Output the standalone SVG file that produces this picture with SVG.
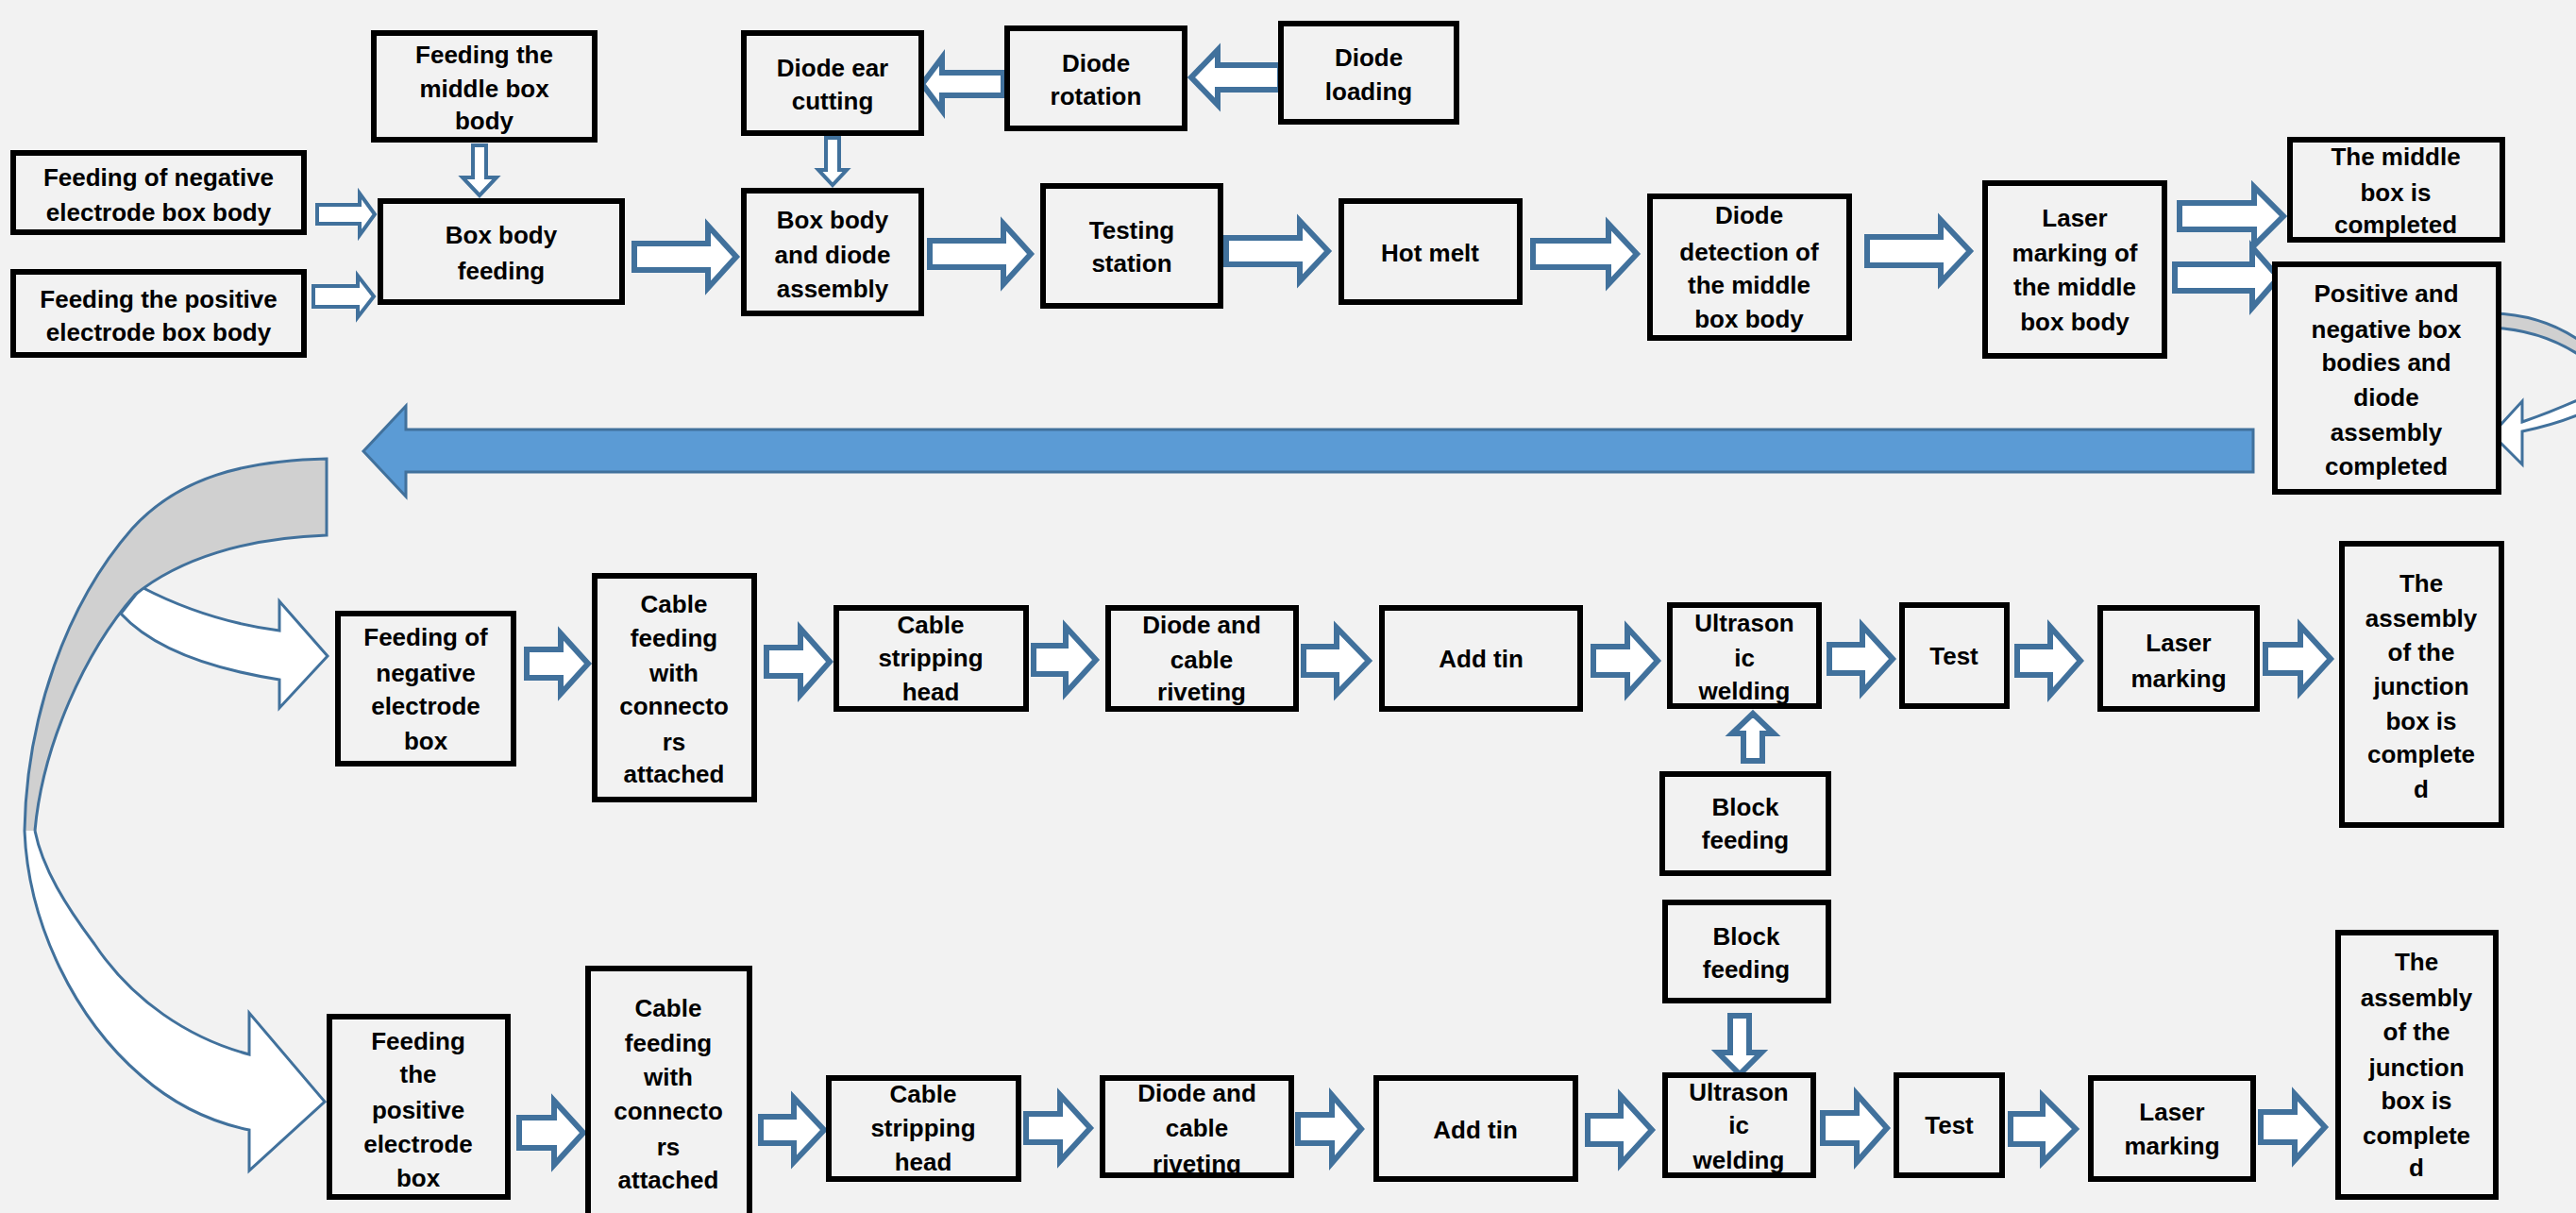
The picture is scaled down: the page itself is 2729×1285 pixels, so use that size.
<svg xmlns="http://www.w3.org/2000/svg" width="2729" height="1285" viewBox="0 0 2729 1285">
<style>
.b{fill:#F2F2F2;stroke:#000;stroke-width:6}
.bo{fill:none;stroke:#000;stroke-width:6}
.t{font-family:"Liberation Sans",Arial,sans-serif;font-weight:bold;font-size:26px;fill:#000;text-anchor:middle}
.a{fill:#fff;stroke:#41719C;stroke-width:6;stroke-linejoin:miter}
.thin{stroke-width:4}
.big{fill:#5B9BD5;stroke:#41719C;stroke-width:3}
.cv{fill:#fff;stroke:#41719C;stroke-width:3}
.cg{fill:#D0D0D0;stroke:#41719C;stroke-width:3}
</style>
<rect x="0" y="0" width="2729" height="1285" fill="#F2F2F2"/>
<g id="connectors">
<path class="a thin" d="M336 217 H381 V205 L397 227 L381 249 V237 H336 Z"/>
<path class="a thin" d="M332 303 H379 V292 L396 314 L379 336 V325 H332 Z"/>
<path class="a thin" d="M501 154 V188 H490 L508 207 L526 188 H515 V154 Z"/>
<path class="a thin" d="M875 146 V180 H867 L882 196 L897 180 H889 V146 Z"/>
<path class="a" d="M672 258 H750 V239 L780 272 L750 305 V286 H672 Z"/>
<path class="a" d="M985 255 H1063 V237 L1092 269 L1063 301 V283 H985 Z"/>
<path class="a" d="M1299 252 H1377 V234 L1407 266 L1377 298 V280 H1299 Z"/>
<path class="a" d="M1624 255 H1704 V237 L1734 269 L1704 301 V283 H1624 Z"/>
<path class="a" d="M1978 251 H2056 V233 L2087 266 L2056 299 V281 H1978 Z"/>
<path class="a" d="M2309 215 H2388 V198 L2419 229 L2388 260 V243 H2309 Z"/>
<path class="a" d="M2304 280 H2386 V262 L2414 294 L2386 326 V308 H2304 Z"/>
<path class="a" d="M1356 69 H1290 V53 L1262 82 L1290 111 V95 H1356 Z"/>
<path class="a" d="M1063 77 H998 V61 L977 89 L998 117 V101 H1063 Z"/>
<path class="cg" d="M2640 332 Q2700 333 2745 370 L2745 385 Q2700 350 2640 347 Z"/>
<path class="cv" d="M2760 410 Q2720 430 2672 447 L2672 425 L2640 460 L2672 492 L2672 457 Q2730 445 2770 420 Z"/>
<path class="big" d="M2387 455 V500 H430 V526 L385 478 L430 430 V455 Z"/>
<path class="cv" d="M150 622 C200 648 250 662 296 668 L296 637 L347 695 L296 750 L296 720 C220 708 160 685 128 650 Z"/>
<path class="cg" d="M26 880 C28 760 70 640 140 560 C190 505 260 488 346 486 L346 567 C260 570 190 592 143 630 C90 690 45 790 37 880"/>
<path class="cv" d="M26 880 C30 980 80 1080 150 1140 C190 1175 230 1190 264 1197 L264 1240 L344 1167 L264 1073 L264 1117 C200 1100 140 1060 100 1000 C70 960 45 920 37 880"/>
<path class="a" d="M558 688 H594 V671 L623 703 L594 735 V718 H558 Z"/>
<path class="a" d="M812 686 H848 V666 L879 701 L848 736 V716 H812 Z"/>
<path class="a" d="M1095 684 H1129 V664 L1161 699 L1129 734 V714 H1095 Z"/>
<path class="a" d="M1381 685 H1416 V665 L1450 700 L1416 735 V715 H1381 Z"/>
<path class="a" d="M1688 685 H1724 V665 L1756 700 L1724 735 V715 H1688 Z"/>
<path class="a" d="M1938 683 H1973 V663 L2005 698 L1973 733 V713 H1938 Z"/>
<path class="a" d="M2137 685 H2172 V664 L2204 700 L2172 736 V715 H2137 Z"/>
<path class="a" d="M2400 683 H2437 V663 L2469 698 L2437 733 V713 H2400 Z"/>
<path class="a" d="M1847 806 V777 H1835 L1857 756 L1879 777 H1867 V806 Z"/>
<path class="a" d="M550 1184 H587 V1166 L618 1200 L587 1234 V1216 H550 Z"/>
<path class="a" d="M806 1183 H841 V1163 L873 1197 L841 1231 V1211 H806 Z"/>
<path class="a" d="M1087 1180 H1123 V1160 L1155 1195 L1123 1230 V1210 H1087 Z"/>
<path class="a" d="M1375 1181 H1411 V1160 L1442 1196 L1411 1232 V1211 H1375 Z"/>
<path class="a" d="M1682 1182 H1717 V1161 L1750 1197 L1717 1233 V1212 H1682 Z"/>
<path class="a" d="M1931 1179 H1967 V1159 L1999 1195 L1967 1231 V1211 H1931 Z"/>
<path class="a" d="M2130 1180 H2164 V1161 L2199 1196 L2164 1231 V1212 H2130 Z"/>
<path class="a" d="M2395 1178 H2431 V1159 L2463 1194 L2431 1229 V1210 H2395 Z"/>
<path class="a" d="M1833 1076 V1115 H1820 L1843 1138 L1866 1115 H1853 V1076 Z"/>
</g>
<g id="n_neg_feed"><rect class="b" x="14" y="162" width="308" height="84"/><text class="t"><tspan x="168" y="197">Feeding of negative</tspan><tspan x="168" y="234">electrode box body</tspan></text></g>
<g id="n_pos_feed"><rect class="b" x="14" y="288" width="308" height="88"/><text class="t"><tspan x="168" y="326">Feeding the positive</tspan><tspan x="168" y="361">electrode box body</tspan></text></g>
<g id="n_mid_feed"><rect class="b" x="396" y="35" width="234" height="113"/><text class="t"><tspan x="513" y="67">Feeding the</tspan><tspan x="513" y="103">middle box</tspan><tspan x="513" y="137">body</tspan></text></g>
<g id="n_bbf"><rect class="b" x="403" y="213" width="256" height="107"/><text class="t"><tspan x="531" y="258">Box body</tspan><tspan x="531" y="296">feeding</tspan></text></g>
<g id="n_ear"><rect class="b" x="788" y="35" width="188" height="106"/><text class="t"><tspan x="882" y="81">Diode ear</tspan><tspan x="882" y="116">cutting</tspan></text></g>
<g id="n_rot"><rect class="b" x="1067" y="30" width="188" height="106"/><text class="t"><tspan x="1161" y="76">Diode</tspan><tspan x="1161" y="111">rotation</tspan></text></g>
<g id="n_load"><rect class="b" x="1357" y="25" width="186" height="104"/><text class="t"><tspan x="1450" y="70">Diode</tspan><tspan x="1450" y="106">loading</tspan></text></g>
<g id="n_assy"><rect class="b" x="788" y="202" width="188" height="130"/><text class="t"><tspan x="882" y="242">Box body</tspan><tspan x="882" y="279">and diode</tspan><tspan x="882" y="315">assembly</tspan></text></g>
<g id="n_test1"><rect class="b" x="1105" y="197" width="188" height="127"/><text class="t"><tspan x="1199" y="253">Testing</tspan><tspan x="1199" y="288">station</tspan></text></g>
<g id="n_hot"><rect class="b" x="1421" y="213" width="189" height="107"/><text class="t"><tspan x="1515" y="277">Hot melt</tspan></text></g>
<g id="n_det"><rect class="b" x="1748" y="208" width="211" height="150"/><text class="t"><tspan x="1853" y="237">Diode</tspan><tspan x="1853" y="276">detection of</tspan><tspan x="1853" y="311">the middle</tspan><tspan x="1853" y="347">box body</tspan></text></g>
<g id="n_laser1"><rect class="b" x="2103" y="194" width="190" height="183"/><text class="t"><tspan x="2198" y="240">Laser</tspan><tspan x="2198" y="277">marking of</tspan><tspan x="2198" y="313">the middle</tspan><tspan x="2198" y="350">box body</tspan></text></g>
<g id="n_midcomp"><rect class="b" x="2426" y="148" width="225" height="106"/><text class="t"><tspan x="2538" y="175">The middle</tspan><tspan x="2538" y="213">box is</tspan><tspan x="2538" y="247">completed</tspan></text></g>
<g id="n_pncomp"><rect class="b" x="2410" y="280" width="237" height="241"/><text class="t"><tspan x="2528" y="320">Positive and</tspan><tspan x="2528" y="358">negative box</tspan><tspan x="2528" y="393">bodies and</tspan><tspan x="2528" y="430">diode</tspan><tspan x="2528" y="467">assembly</tspan><tspan x="2528" y="503">completed</tspan></text></g>
<g id="n_negbox"><rect class="b" x="358" y="650" width="186" height="159"/><text class="t"><tspan x="451" y="684">Feeding of</tspan><tspan x="451" y="722">negative</tspan><tspan x="451" y="757">electrode</tspan><tspan x="451" y="794">box</tspan></text></g>
<g id="n_cable1"><rect class="b" x="630" y="610" width="169" height="237"/><text class="t"><tspan x="714" y="649">Cable</tspan><tspan x="714" y="685">feeding</tspan><tspan x="714" y="722">with</tspan><tspan x="714" y="757">connecto</tspan><tspan x="714" y="795">rs</tspan><tspan x="714" y="829">attached</tspan></text></g>
<g id="n_strip1"><rect class="b" x="886" y="644" width="201" height="107"/><text class="t"><tspan x="986" y="671">Cable</tspan><tspan x="986" y="706">stripping</tspan><tspan x="986" y="742">head</tspan></text></g>
<g id="n_rivet1"><rect class="b" x="1174" y="644" width="199" height="107"/><text class="t"><tspan x="1273" y="671">Diode and</tspan><tspan x="1273" y="708">cable</tspan><tspan x="1273" y="742">riveting</tspan></text><rect class="bo" x="1174" y="644" width="199" height="107"/></g>
<g id="n_tin1"><rect class="b" x="1464" y="644" width="210" height="107"/><text class="t"><tspan x="1569" y="707">Add tin</tspan></text></g>
<g id="n_ultra1"><rect class="b" x="1769" y="641" width="158" height="107"/><text class="t"><tspan x="1848" y="669">Ultrason</tspan><tspan x="1848" y="706">ic</tspan><tspan x="1848" y="741">welding</tspan></text><rect class="bo" x="1769" y="641" width="158" height="107"/></g>
<g id="n_block1"><rect class="b" x="1761" y="820" width="176" height="105"/><text class="t"><tspan x="1849" y="864">Block</tspan><tspan x="1849" y="899">feeding</tspan></text></g>
<g id="n_test2"><rect class="b" x="2015" y="641" width="111" height="107"/><text class="t"><tspan x="2070" y="704">Test</tspan></text></g>
<g id="n_laser2"><rect class="b" x="2225" y="644" width="166" height="107"/><text class="t"><tspan x="2308" y="690">Laser</tspan><tspan x="2308" y="728">marking</tspan></text></g>
<g id="n_done1"><rect class="b" x="2481" y="576" width="169" height="298"/><text class="t"><tspan x="2565" y="627">The</tspan><tspan x="2565" y="664">assembly</tspan><tspan x="2565" y="700">of the</tspan><tspan x="2565" y="736">junction</tspan><tspan x="2565" y="773">box is</tspan><tspan x="2565" y="808">complete</tspan><tspan x="2565" y="845">d</tspan></text></g>
<g id="n_posbox"><rect class="b" x="349" y="1077" width="189" height="191"/><text class="t"><tspan x="443" y="1112">Feeding</tspan><tspan x="443" y="1147">the</tspan><tspan x="443" y="1185">positive</tspan><tspan x="443" y="1221">electrode</tspan><tspan x="443" y="1257">box</tspan></text></g>
<g id="n_cable2"><rect class="b" x="623" y="1026" width="171" height="275"/><text class="t"><tspan x="708" y="1077">Cable</tspan><tspan x="708" y="1114">feeding</tspan><tspan x="708" y="1150">with</tspan><tspan x="708" y="1186">connecto</tspan><tspan x="708" y="1224">rs</tspan><tspan x="708" y="1259">attached</tspan></text></g>
<g id="n_strip2"><rect class="b" x="878" y="1142" width="201" height="107"/><text class="t"><tspan x="978" y="1168">Cable</tspan><tspan x="978" y="1204">stripping</tspan><tspan x="978" y="1240">head</tspan></text></g>
<g id="n_rivet2"><rect class="b" x="1168" y="1142" width="200" height="103"/><text class="t"><tspan x="1268" y="1167">Diode and</tspan><tspan x="1268" y="1204">cable</tspan><tspan x="1268" y="1242">riveting</tspan></text><rect class="bo" x="1168" y="1142" width="200" height="103"/></g>
<g id="n_tin2"><rect class="b" x="1458" y="1142" width="211" height="107"/><text class="t"><tspan x="1563" y="1206">Add tin</tspan></text></g>
<g id="n_block2"><rect class="b" x="1764" y="956" width="173" height="104"/><text class="t"><tspan x="1850" y="1001">Block</tspan><tspan x="1850" y="1036">feeding</tspan></text></g>
<g id="n_ultra2"><rect class="b" x="1764" y="1139" width="157" height="106"/><text class="t"><tspan x="1842" y="1166">Ultrason</tspan><tspan x="1842" y="1201">ic</tspan><tspan x="1842" y="1238">welding</tspan></text><rect class="bo" x="1764" y="1139" width="157" height="106"/></g>
<g id="n_test3"><rect class="b" x="2009" y="1139" width="112" height="106"/><text class="t"><tspan x="2065" y="1201">Test</tspan></text></g>
<g id="n_laser3"><rect class="b" x="2215" y="1142" width="172" height="107"/><text class="t"><tspan x="2301" y="1187">Laser</tspan><tspan x="2301" y="1223">marking</tspan></text></g>
<g id="n_done2"><rect class="b" x="2477" y="988" width="167" height="280"/><text class="t"><tspan x="2560" y="1028">The</tspan><tspan x="2560" y="1066">assembly</tspan><tspan x="2560" y="1102">of the</tspan><tspan x="2560" y="1140">junction</tspan><tspan x="2560" y="1175">box is</tspan><tspan x="2560" y="1212">complete</tspan><tspan x="2560" y="1246">d</tspan></text></g>
</svg>
